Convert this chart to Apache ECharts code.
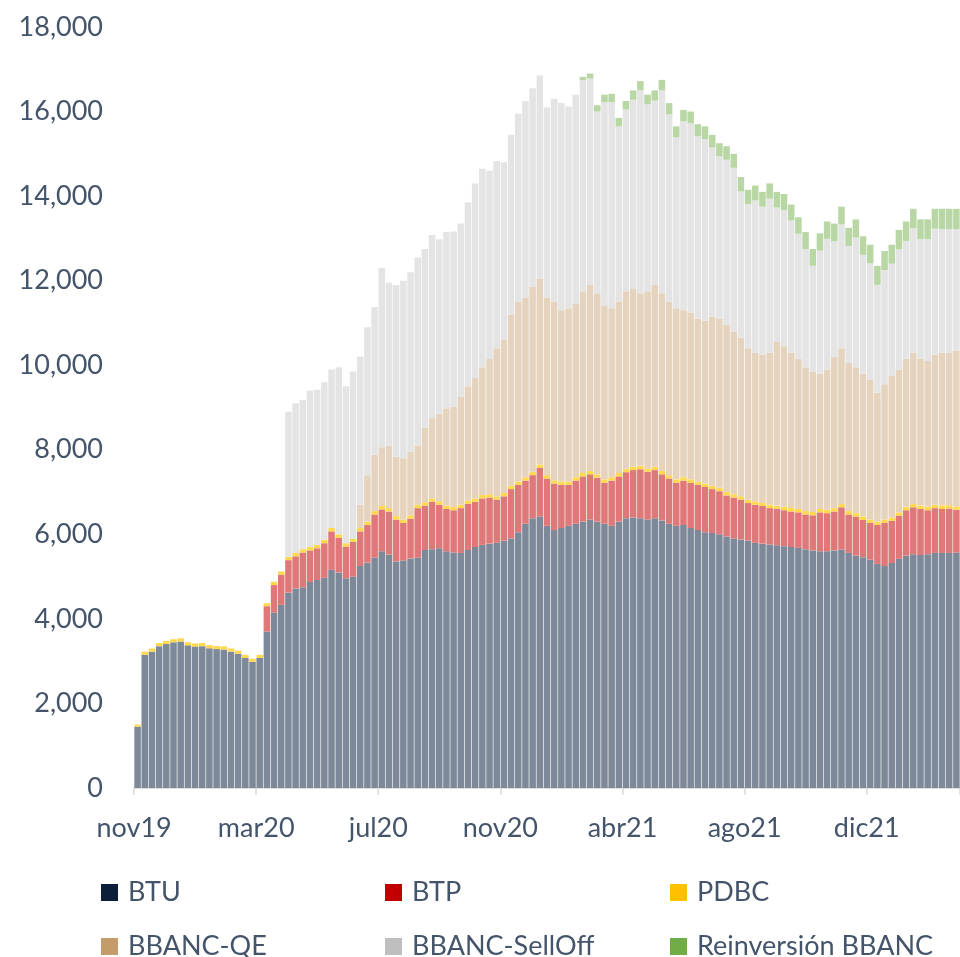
<!DOCTYPE html>
<html>
<head>
<meta charset="utf-8">
<script src="https://cdn.jsdelivr.net/npm/echarts@6/dist/echarts.min.js"></script>
<style>
html,body{margin:0;padding:0;background:#fff;}
#c{width:960px;height:957px;}
</style>
</head>
<body>
<div id="c"></div>
<script>
// ---- data (weekly, Nov 2019 - Mar 2022) ----
const tickLabels = ['nov19','mar20','jul20','nov20','abr21','ago21','dic21'];
const tickEvery = 17;

const btu = [
1450,3150,3225,3355,3405,3445,3465,3375,3345,3355,
3305,3285,3275,3225,3175,3075,2985,3075,3700,4150,
4330,4620,4720,4750,4870,4920,4970,5160,5100,4960,
5000,5250,5330,5450,5600,5520,5360,5380,5430,5450,
5630,5650,5670,5600,5570,5560,5630,5700,5750,5780,
5800,5850,5900,6050,6250,6380,6420,6200,6100,6150,
6200,6250,6300,6350,6300,6250,6200,6300,6380,6400,
6380,6350,6380,6330,6250,6200,6220,6150,6100,6050,
6030,6000,5950,5900,5880,5850,5800,5780,5760,5740,
5720,5700,5680,5650,5620,5600,5600,5620,5640,5560,
5500,5460,5400,5300,5250,5320,5420,5500,5530,5510,
5530,5560,5560,5560,5570];

const btp = [
0,0,0,0,0,0,0,0,0,0,
0,0,0,0,0,0,0,0,600,650,
710,770,760,820,750,750,820,910,820,750,
820,820,890,1020,990,1020,990,890,940,1170,
1050,1120,1030,1000,1000,1060,1090,1070,1100,1090,
1020,1050,1170,1120,1020,1020,1150,1120,1100,1020,
970,1020,1070,1070,1040,970,1070,1070,1090,1120,
1160,1130,1140,1090,1070,1020,1050,1070,1070,1070,
1040,1020,970,970,940,890,900,890,860,860,
850,840,840,820,830,920,900,920,1000,910,
920,880,870,920,1020,1000,1020,1070,1110,1090,
1040,1060,1040,1050,1010];

const pdbc = [
50,75,75,75,75,75,75,75,75,75,
75,75,75,75,75,75,75,75,70,80,
80,80,80,80,80,80,80,80,80,80,
80,80,80,80,80,80,80,80,80,80,
80,80,80,80,80,80,80,80,80,80,
80,80,80,80,80,80,80,80,80,80,
80,80,80,80,80,80,80,80,80,80,
80,80,80,80,80,80,80,80,80,80,
80,80,80,80,80,80,80,80,80,80,
80,80,80,80,80,80,80,80,80,80,
80,80,80,80,80,80,80,80,80,80,
80,80,80,80,80];

const qe = [
0,0,0,0,0,0,0,0,0,0,
0,0,0,0,0,0,0,0,0,0,
0,0,0,0,0,0,0,0,0,0,
0,550,1100,1330,1390,1480,1410,1450,1500,1400,
1760,1900,2070,2300,2370,2550,2700,2850,3020,3200,
3500,3620,4050,4250,4250,4370,4400,4200,4220,4050,
4100,4100,4300,4400,4280,4100,4000,4050,4200,4200,
4080,4190,4300,4200,4100,4050,3950,3950,3850,3850,
4000,4000,3950,3850,3750,3580,3520,3500,3600,3870,
3800,3680,3550,3400,3320,3200,3320,3580,3680,3500,
3450,3380,3300,3050,3200,3350,3380,3500,3580,3470,
3450,3550,3620,3610,3690];

const sellOff = [
0,0,0,0,0,0,0,0,0,0,
0,0,0,0,0,0,0,0,0,0,
0,3430,3540,3530,3700,3670,3730,3750,3950,3710,
3950,3500,3500,3500,4240,3850,4060,4200,4250,4450,
4230,4330,4130,4170,4140,4100,4350,4600,4700,4450,
4430,4200,4250,4450,4650,4700,4800,4500,4800,4900,
4770,4950,4990,4880,4300,4820,4870,4150,4300,4480,
4800,4420,4360,4800,4440,4040,4470,4470,4320,4300,
4000,3840,3910,3870,3460,3410,3600,3500,3640,3180,
3220,3120,2960,2800,2500,2910,3090,2730,2930,2770,
3070,2810,2760,2550,2700,2650,2840,2790,2940,2830,
2880,2980,2920,2920,2870];

const reinv = [
0,0,0,0,0,0,0,0,0,0,
0,0,0,0,0,0,0,0,0,0,
0,0,0,0,0,0,0,0,0,0,
0,0,0,0,0,0,0,0,0,0,
0,0,0,0,0,0,0,0,0,0,
0,0,0,0,0,0,0,0,0,0,
0,0,80,120,150,180,200,200,200,220,
220,230,240,250,260,260,270,280,280,300,
300,310,320,330,340,340,350,350,360,370,
380,380,390,400,400,410,410,420,420,430,
430,440,440,450,450,450,460,460,460,470,
470,470,480,480,480];

// category labels: one per week
const categories = btu.map(function(_, i){ return 'w' + i; });

const seriesNames = ['BTU','BTP','PDBC','BBANC-QE','BBANC-SellOff','Reinversión BBANC'];
const seriesData = [btu, btp, pdbc, qe, sellOff, reinv];
const barColors = ['#7d8998','#df7879','#ffd84f','#e5d3bd','#e4e4e4','#b9d7a5'];
const legendColors = ['#0c1f3a','#c00000','#ffc000','#c49c6b','#bfbfbf','#70ad47'];

const textColor = '#44546a';
const font = 'Lato, "Open Sans", sans-serif';

const legendPos = [[101,879],[385,879],[670,879],[101,933],[385,933],[670,933]];

const chart = echarts.init(document.getElementById('c'), null, {renderer:'canvas'});
chart.setOption({
  animation:false,
  backgroundColor:'#ffffff',
  grid:{left:134, right:0, top:27, bottom:169, containLabel:false},
  xAxis:{
    type:'category',
    data:categories,
    boundaryGap:true,
    axisLine:{show:true, lineStyle:{color:'#d9d9d9', width:1.5}},
    axisTick:{show:true, length:7, lineStyle:{color:'#d9d9d9', width:1.5},
      interval:function(idx){ return idx % tickEvery === 0; }},
    axisLabel:{
      interval:0,
      margin:27,
      color:textColor, fontSize:27, fontFamily:font,
      formatter:function(v, idx){
        if (idx % tickEvery !== 0) return '';
        const k = idx / tickEvery;
        return k < tickLabels.length ? '{a|' + tickLabels[k] + '}' : '';
      },
      rich:{a:{color:textColor, fontSize:27, fontFamily:font, padding:[0,7,0,0]}}
    },
    splitLine:{show:false}
  },
  yAxis:{
    type:'value',
    min:0, max:18000, interval:2000,
    axisLine:{show:false},
    axisTick:{show:false},
    splitLine:{show:false},
    axisLabel:{
      margin:31, color:textColor, fontSize:27, fontFamily:font,
      formatter:function(v){ return v.toLocaleString('en-US'); }
    }
  },
  legend: seriesNames.map(function(n, i){
    return {
      data:[{name:n, itemStyle:{color:legendColors[i]}}],
      left:legendPos[i][0], top:legendPos[i][1],
      padding:0, icon:'rect', itemWidth:17, itemHeight:17,
      selectedMode:false,
      textStyle:{color:textColor, fontSize:27, fontFamily:font, padding:[0,0,0,5]}
    };
  }),
  series: seriesNames.map(function(n, i){
    return {
      name:n, type:'bar', stack:'total',
      data:seriesData[i],
      barCategoryGap:'9%',
      itemStyle:{color:barColors[i]},
      emphasis:{disabled:true}
    };
  })
});
</script>
</body>
</html>
